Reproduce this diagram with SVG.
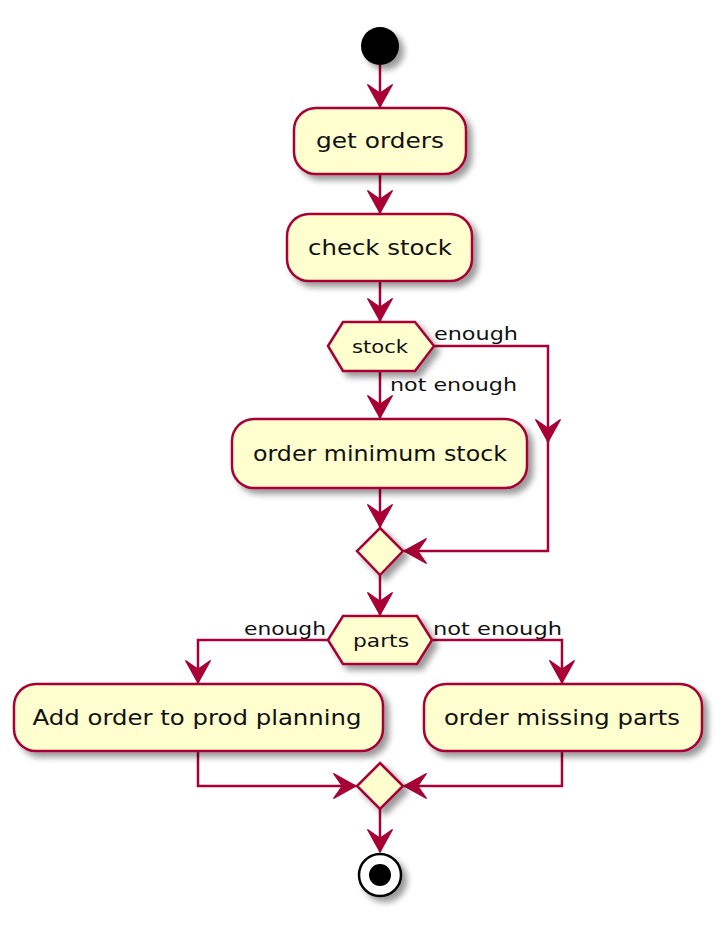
<svg xmlns="http://www.w3.org/2000/svg" width="724" height="941" viewBox="0 0 724 941">
<style>
.box{fill:#FEFECE;stroke:#A80036;stroke-width:2.5;filter:url(#sh)}
.ln{fill:none;stroke:#A80036;stroke-width:2.5;marker-end:url(#ah)}
.t{font-family:"DejaVu Sans",sans-serif;font-size:21px;fill:#111;text-anchor:middle}
.l{font-family:"DejaVu Sans",sans-serif;font-size:18px;fill:#111}
.ht{font-family:"DejaVu Sans",sans-serif;font-size:18px;fill:#111;text-anchor:middle}
</style>
<defs>
<filter id="sh" x="-20%" y="-20%" width="150%" height="160%">
<feGaussianBlur in="SourceAlpha" stdDeviation="3"/>
<feOffset dx="5" dy="5" result="b"/>
<feComponentTransfer><feFuncA type="linear" slope="0.4"/></feComponentTransfer>
<feMerge><feMergeNode/><feMergeNode in="SourceGraphic"/></feMerge>
</filter>
<marker id="ah" markerUnits="userSpaceOnUse" markerWidth="30" markerHeight="30" viewBox="-20 -12 22 24" refX="0" refY="0" orient="auto">
<path d="M0,0 L-18,-10 L-11,0 L-18,10 Z" fill="#A80036" stroke="#A80036" stroke-width="1"/>
</marker>
</defs>
<rect width="724" height="941" fill="#fff"/>
<g id="connectors">
<path class="ln" d="M380,65 L380,107"/>
<path class="ln" d="M380,174 L380,213"/>
<path class="ln" d="M380,281 L380,321"/>
<path class="ln" d="M380,371 L380,418"/>
<path class="ln" d="M380,488 L380,527"/>
<path class="ln" d="M434,346 L548,346 L548,442"/>
<path class="ln" d="M548,440 L548,551 L404,551"/>
<path class="ln" d="M380,575 L380,615"/>
<path class="ln" d="M328,640 L198,640 L198,683"/>
<path class="ln" d="M432,640 L562,640 L562,683"/>
<path class="ln" d="M198,751 L198,786 L356,786"/>
<path class="ln" d="M562,751 L562,786 L404,786"/>
<path class="ln" d="M380,809 L380,852"/>
<text class="l" x="434" y="340" textLength="84" lengthAdjust="spacingAndGlyphs">enough</text>
<text class="l" x="390" y="391" textLength="127" lengthAdjust="spacingAndGlyphs">not enough</text>
<text class="l" x="244" y="635" textLength="82" lengthAdjust="spacingAndGlyphs">enough</text>
<text class="l" x="433" y="635" textLength="129" lengthAdjust="spacingAndGlyphs">not enough</text>
</g>
<g id="start"><circle cx="380" cy="46" r="19" fill="#000" filter="url(#sh)"/></g>
<g id="get_orders"><rect class="box" x="294" y="108" width="172" height="66" rx="22"/><text class="t" x="380" y="148" textLength="128" lengthAdjust="spacingAndGlyphs">get orders</text></g>
<g id="check_stock"><rect class="box" x="287" y="214" width="185" height="67" rx="22"/><text class="t" x="380" y="255" textLength="144" lengthAdjust="spacingAndGlyphs">check stock</text></g>
<g id="stock"><polygon class="box" points="328,346 343,322 415,322 434,346 415,371 343,371"/><text class="ht" x="380" y="353" textLength="56" lengthAdjust="spacingAndGlyphs">stock</text></g>
<g id="order_min"><rect class="box" x="232" y="419" width="295" height="69" rx="22"/><text class="t" x="380" y="461" textLength="254" lengthAdjust="spacingAndGlyphs">order minimum stock</text></g>
<g id="merge1"><polygon class="box" points="380,528 403,551 380,575 357,551"/></g>
<g id="parts"><polygon class="box" points="328,640 343,616 417,616 432,640 417,664 343,664"/><text class="ht" x="381" y="647" textLength="56" lengthAdjust="spacingAndGlyphs">parts</text></g>
<g id="add_order"><rect class="box" x="14" y="684" width="369" height="67" rx="22"/><text class="t" x="197" y="725" textLength="329" lengthAdjust="spacingAndGlyphs">Add order to prod planning</text></g>
<g id="order_missing"><rect class="box" x="424" y="684" width="278" height="67" rx="22"/><text class="t" x="562" y="725" textLength="236" lengthAdjust="spacingAndGlyphs">order missing parts</text></g>
<g id="merge2"><polygon class="box" points="380,763 403,786 380,809 357,786"/></g>
<g id="end"><circle cx="380" cy="875" r="21" fill="#fff" stroke="#000" stroke-width="2.5" filter="url(#sh)"/><circle cx="380" cy="875" r="11" fill="#000"/></g>
</svg>
